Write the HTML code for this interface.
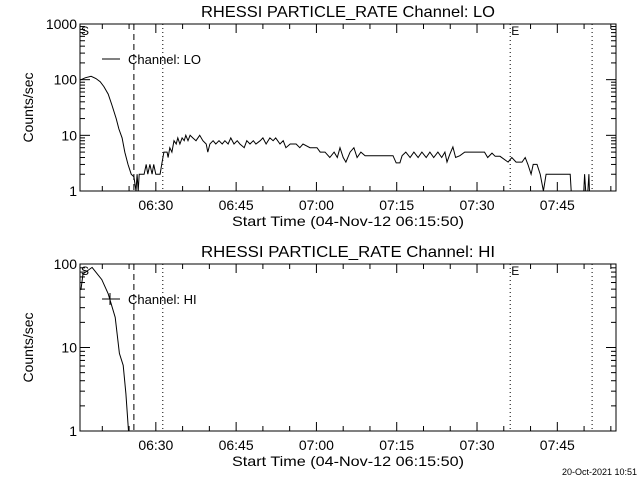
<!DOCTYPE html>
<html><head><meta charset="utf-8"><style>
html,body{margin:0;padding:0;background:#fff;}
svg{display:block;font-family:"Liberation Sans",sans-serif;}
</style></head><body>
<svg id="c" width="640" height="480" viewBox="0 0 640 480"></svg>
<script>
const loTimes=[15.8,16.8,17.9,18.8,19.6,20.3,21.1,21.8,22.6,23.1,23.7,24.2,24.8,25.4,25.9,26.3,26.5,26.7,26.9,27.8,28.2,28.5,28.9,29.3,29.6,30.0,30.8,31.1,31.5,32.1,32.3,32.6,33.0,33.4,33.8,34.1,34.5,34.9,35.3,35.6,36.0,36.4,36.9,37.5,38.2,38.8,39.4,39.7,40.1,40.7,41.2,41.8,42.4,42.9,43.5,44.0,44.6,45.2,45.7,46.5,47.0,47.6,48.2,48.7,49.5,50.0,50.6,51.3,51.9,52.4,53.2,53.8,54.3,55.1,56.2,56.9,57.5,58.8,60.1,60.7,61.6,62.5,63.3,63.9,64.4,65.0,65.5,66.3,67.0,67.6,68.3,69.1,70.0,74.3,74.9,75.6,76.0,76.7,77.5,78.2,79.0,79.7,80.5,81.2,81.9,82.7,83.4,84.0,84.4,84.9,85.5,86.0,86.8,87.7,91.4,92.0,92.8,93.4,94.3,95.8,96.5,97.3,98.4,99.0,99.5,100.1,100.5,101.2,101.8,102.4,102.9,107.4,107.6,107.8,109.8,110.1,110.5,110.9,111.1];
const loValues=[98,108,115,105,92,75,55,35,20,13,9,5,3,2,1.8,1,2,1,2,2,3,2,3,2,3,2,2,3,5,5,4,6,5,8,7,9,7,9,8,10,8,10,9,8,10,8,7,5,7,8,7,8,7,8,7,9,7,8,7,6,8,7,8,7,8,9,7,9,8,9,7,8,6,7,7,6,7,6,6,5,5,4,5,4,6,4,3.3,5,6,4,5,4.3,4.3,4.3,3.2,3.2,4.3,5,4,5,4,5,4,5,4,5,4,5,3.3,4.5,6.2,4,4.3,5,5,4,4.8,4.2,4.2,3.3,4,3.3,3.3,4,3,2,3,3,2,1,2,2,1,0.5,0.5,2,0.5,2,0.5];
const hiTimes=[16.0,16.4,18.1,19.9,21.1,22.4,23.2,23.9,24.4,24.9,25.5];
const hiValues=[49,76,91,65,44,23,8.5,6.1,2.8,1,0.5];
const xTickLabels=["06:30","06:45","07:00","07:15","07:30","07:45"];
const xTickMinutes=[30,45,60,75,90,105];
const markerMinutes=[25.9,31.3,96.2,111.5];

const NS="http://www.w3.org/2000/svg";
const svg=document.getElementById('c');
const X0=80,X1=616,T0=15.833,PXM=5.353;
function xs(m){return X0+(m-T0)*PXM;}
function mk(tag,attrs,parent){const e=document.createElementNS(NS,tag);for(const k in attrs)e.setAttribute(k,attrs[k]);(parent||svg).appendChild(e);return e;}
function txt(s,x,y,size,anchor,parent){const t=mk('text',{x:x,y:y,'font-size':size,'text-anchor':anchor||'start',fill:'#000'},parent);t.textContent=s;return t;}

function panel(id,top,bot,decades,title,legend,times,values,plus){
  const g=mk('g',{});
  
  
  const dec=(bot-top)/decades;
  const ys=v=>bot-Math.log10(v)*dec;
  const clip=mk('clipPath',{id:'clip-'+id},g);mk('rect',{x:X0,y:top,width:X1-X0,height:bot-top},clip);
  const frame=mk('rect',{x:X0,y:top,width:X1-X0,height:bot-top,fill:'none',stroke:'#000','stroke-width':1},g);
  
  const tt=txt(title,348,top-7,16,'middle',g);
  tt.setAttribute('textLength','294');tt.setAttribute('lengthAdjust','spacingAndGlyphs');
  
  for(let d=0;d<=decades;d++){
    const y=ys(Math.pow(10,d));
    mk('line',{x1:X0,x2:X0+10,y1:y,y2:y,stroke:'#000'},g);
    mk('line',{x1:X1-10,x2:X1,y1:y,y2:y,stroke:'#000'},g);
    const l=txt(String(Math.pow(10,d)),77,y+5,14,'end',g);
    
    if(d<decades)for(let k=2;k<=9;k++){const yy=ys(k*Math.pow(10,d));
      mk('line',{x1:X0,x2:X0+5,y1:yy,y2:yy,stroke:'#000'},g);
      mk('line',{x1:X1-5,x2:X1,y1:yy,y2:yy,stroke:'#000'},g);}
  }
  for(let m=20;m<=115;m+=5){const x=xs(m);if(x<X0||x>X1)continue;
    const L=(m%15===0)?9:5;
    mk('line',{x1:x,x2:x,y1:bot,y2:bot-L,stroke:'#000'},g);
    mk('line',{x1:x,x2:x,y1:top,y2:top+L,stroke:'#000'},g);}
  xTickMinutes.forEach((m,i)=>{const l=txt(xTickLabels[i],xs(m),bot+19,14,'middle',g);
    });
  const xt=txt('Start Time (04-Nov-12 06:15:50)',348,bot+35,14,'middle',g);
  xt.setAttribute('textLength','232');xt.setAttribute('lengthAdjust','spacingAndGlyphs');
  
  const yt=txt('Counts/sec',0,0,14,'middle',g);
  yt.setAttribute('transform','translate(33,'+((top+bot)/2)+') rotate(-90)');
  
  markerMinutes.forEach((m,i)=>{const x=xs(m);
    const ln=mk('line',{x1:x,x2:x,y1:top,y2:bot,stroke:'#000','stroke-dasharray':i===0?'6,4':'1,3'},g);
    });
  const s=txt('S',81,top+11,12,'start',g);
  const e=txt('E',xs(markerMinutes[2])+1,top+11,12,'start',g);
  const ly=top+35;
  mk('line',{x1:102,x2:120,y1:ly,y2:ly,stroke:'#000'},g);
  if(plus)mk('line',{x1:110,x2:110,y1:ly-6,y2:ly+6,stroke:'#000'},g);
  const lt=txt(legend,128,ly+5,13,'start',g);
  
  const pts=times.map((t,i)=>xs(t).toFixed(1)+','+ys(values[i]).toFixed(1)).join(' ');
  const pl=mk('polyline',{points:pts,fill:'none',stroke:'#000','stroke-width':1,'clip-path':'url(#clip-'+id+')'},g);
  
}
panel('lo',24,191,3,'RHESSI PARTICLE_RATE Channel: LO','Channel: LO',loTimes,loValues,false);
panel('hi',264,431,2,'RHESSI PARTICLE_RATE Channel: HI','Channel: HI',hiTimes,hiValues,true);
const d=txt('20-Oct-2021 10:51',637,475,9,'end');

</script>
</body></html>
